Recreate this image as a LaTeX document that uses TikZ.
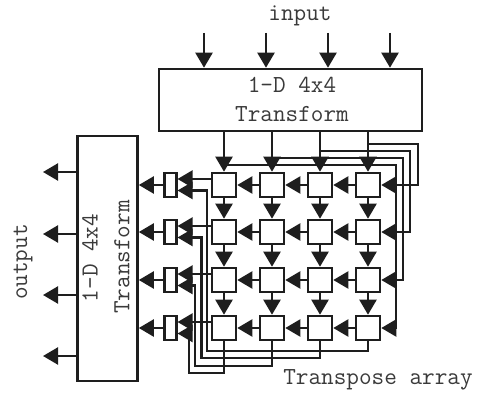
\documentclass[tikz,border=0pt]{standalone}
\usepackage{xcolor}
\usetikzlibrary{calc,arrows.meta}
\definecolor{ink}{HTML}{1E1E1E}
\definecolor{lettering}{HTML}{3A3A3A}
\tikzset{
  wire/.style={draw=ink, line width=2.3pt, line join=miter},
  arr/.style={wire, -{Triangle[length=15pt,width=17pt]}},
  cell/.style={draw=ink, line width=2.6pt, fill=white, minimum size=24pt, inner sep=0pt},
  mux/.style={draw=ink, line width=2.6pt, fill=white, minimum width=11.5pt, minimum height=24pt, inner sep=0pt},
  block/.style={draw=ink, line width=2.6pt, fill=white, inner sep=0pt},
  lab/.style={text=lettering, font=\ttfamily\fontsize{24.5}{25}\selectfont},
}
\begin{document}
\begin{tikzpicture}[x=1pt,y=-1pt]
  \useasboundingbox (0,0) rectangle (481,396);
  \node[block,minimum width=263pt,minimum height=62pt] (top) at (290.5,100) {};
  \node[block,minimum width=60pt,minimum height=245pt] (side) at (107.5,258.5) {};
  \node[lab] (title1) at (292,85) {1-D 4x4};
  \node[lab] (title2) at (292,114) {Transform};
  \node[lab,rotate=90] (title3) at (90,258) {1-D 4x4};
  \node[lab,rotate=90] (title4) at (122,257) {Transform};
  \node[lab] (inlab) at (300,16) {input};
  \node[lab,rotate=90] (outlab) at (23,262) {output};
  \node[lab] (tlab) at (378,380) {Transpose array};
  % cells and muxes
  \foreach \r/\y in {1/185,2/232,3/280,4/328} {
    \node[mux] (mux\r) at (170.5,\y) {};
    \foreach \c/\x in {1/224,2/272,3/320,4/368}
      \node[cell] (c\r\c) at (\x,\y) {};
    \draw[arr] (mux\r) -- (side.east |- mux\r);
    \draw[arr] (c\r1.west |- 0,\y) ++(0,-6) -- ($(mux\r.east)+(0,-6)$);
  }
  \foreach \r/\q in {1/2,2/3,3/4}
    \foreach \c in {1,2,3,4}
      \draw[arr] (c\r\c) -- (c\q\c);
  \foreach \r in {1,2,3,4}
    \foreach \c/\d in {4/3,3/2,2/1}
      \draw[arr] (c\r\c) -- (c\r\d);
  % input and output stubs
  \foreach \i/\x in {1/204,2/266,3/328,4/390} {
    \coordinate (in\i) at (\x,33);
    \draw[arr] (in\i) -- (in\i |- top.north);
  }
  \foreach \i/\y in {1/172,2/234,3/295,4/356} {
    \coordinate (out\i) at (43,\y);
    \draw[arr] (side.west |- out\i) -- (out\i);
  }
  \foreach \c in {1,2,3,4}
    \draw[arr] (top.south -| c1\c) -- (c1\c);
  % transpose feed on the right
  \foreach \c/\r/\y/\x in {4/1/144/418,3/2/151/410,2/3/158/403,1/4/165/396}
    \draw[arr] (c1\c |- 0,\y) -- (\x,\y) |- (c\r4);
  % feedback under the array
  \foreach \c/\r/\y/\x in {4/1/351/207,3/2/358/201.5,2/3/366/195,1/4/373/189}
    \draw[arr] (c4\c) -- (c4\c |- 0,\y) -- (\x,\y) |- ($(mux\r.east)+(0,5.5)$);
\end{tikzpicture}
\end{document}
